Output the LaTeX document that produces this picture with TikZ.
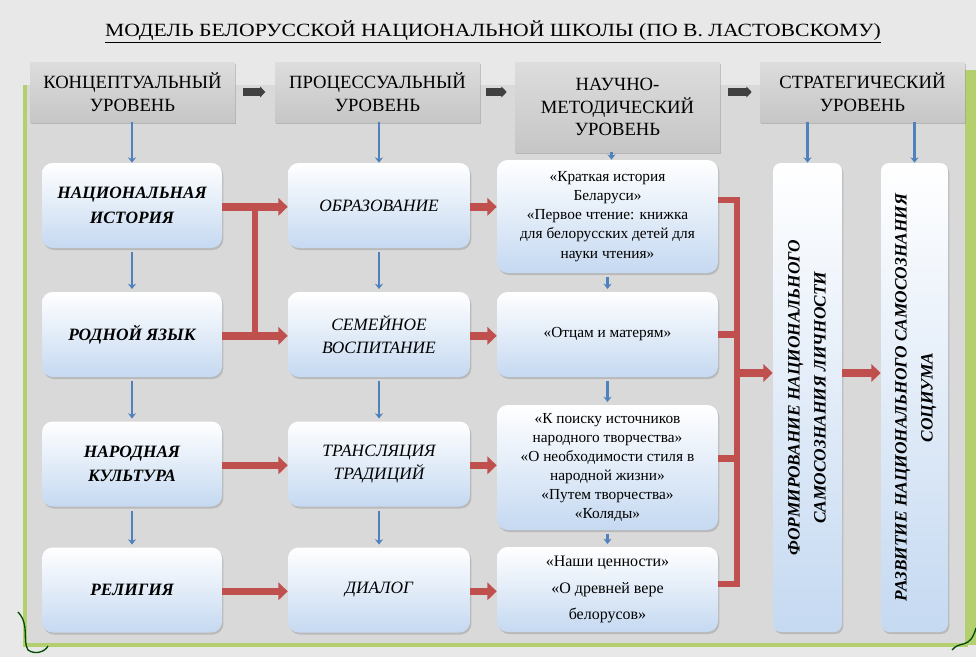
\documentclass[tikz,border=0pt]{standalone}
\usepackage{fontspec}
\setmainfont{Liberation Serif}
\usetikzlibrary{arrows.meta,calc,shadows}

\definecolor{bgray}{HTML}{D9D9D9}
\definecolor{hgray}{HTML}{C6C6C6}
\definecolor{boxblue}{HTML}{C5D9F1}
\definecolor{arrred}{HTML}{C0504D}
\definecolor{arrblue}{HTML}{4F81BD}
\definecolor{framegreen}{HTML}{B3CF6E}

\begin{document}
\begin{tikzpicture}[x=0.75pt,y=-0.75pt,
    head/.style={top color=hgray!60, bottom color=hgray, align=center,
      minimum width=153.75pt, minimum height=45pt,
      font=\fontsize{14}{17}\selectfont,
      drop shadow={shadow xshift=1pt, shadow yshift=-1.5pt, opacity=0.4}},
    box/.style={rounded corners=8pt, top color=white, bottom color=boxblue,
      align=center, minimum height=63.75pt,
      drop shadow={shadow xshift=1pt, shadow yshift=-1.5pt, opacity=0.35}},
    conc/.style={box, minimum width=135pt, font=\fontsize{13}{18.5}\selectfont\bfseries\itshape},
    proc/.style={box, minimum width=136.5pt, font=\fontsize{13}{17.5}\selectfont\itshape},
    meth/.style={box, minimum width=165.75pt, font=\fontsize{11.5}{14.3}\selectfont},
    strat/.style={box, rounded corners=6pt, minimum width=51.75pt, minimum height=351.75pt,
      font=\fontsize{13}{19.5}\selectfont\bfseries\itshape},
    bluearr/.style={draw=arrblue, line width=2pt, -{Stealth[length=4pt,width=6pt]}},
    redarr/.style={draw=arrred, line width=5.5pt, -{Triangle[length=7pt,width=13pt]}},
    redbar/.style={draw=arrred, line width=5pt},
    darkarr/.style={draw=black!75, line width=6pt, -{Triangle[length=4pt,width=8pt]}}]

  % background and frame
  \useasboundingbox (0,0) rectangle (976,657);
  \fill[gray!18] (0,0) rectangle (976,657);
  \fill[bgray] (25,85) rectangle (968,645);
  \draw[framegreen, line width=3pt] (25,85) -- (25,645) -- (968,645);
  \fill[framegreen] (965,70) rectangle (976,645);
  \draw[green!30!black, line width=1pt] (18,612) .. controls (30,625) and (22,640) .. (28,650) .. controls (35,655) and (45,652) .. (48,646);
  \draw[green!30!black, line width=1pt] (952,650) .. controls (960,640) and (970,650) .. (976,628);

  % title
  \node (title) at (493,32) {\fontsize{14}{16}\selectfont\scalebox{1.16}[1]{\underline{МОДЕЛЬ БЕЛОРУССКОЙ НАЦИОНАЛЬНОЙ ШКОЛЫ (ПО В. ЛАСТОВСКОМУ)}}};

  % levels
  \node[head] (h1) at (132.5,92) {КОНЦЕПТУАЛЬНЫЙ\\УРОВЕНЬ};
  \node[head] (h2) at (377.5,92) {ПРОЦЕССУАЛЬНЫЙ\\УРОВЕНЬ};
  \node[head, minimum height=67.5pt] (h3) at (617.5,107) {НАУЧНО-\\МЕТОДИЧЕСКИЙ\\УРОВЕНЬ};
  \node[head] (h4) at (862.5,92) {СТРАТЕГИЧЕСКИЙ\\УРОВЕНЬ};

  \draw[darkarr] ([xshift=6pt]h1.east) -- ([xshift=-7pt]h2.west);
  \draw[darkarr] ([xshift=4pt]h2.east) -- ([xshift=-6pt]h2.east -| h3.west);
  \draw[darkarr] ([xshift=6pt]h2.east -| h3.east) -- ([xshift=-6pt]h4.west);

  % conceptual level
  \node[conc] (c1) at (132,205.5) {НАЦИОНАЛЬНАЯ\\ИСТОРИЯ};
  \node[conc] (c2) at (132,334.5) {РОДНОЙ ЯЗЫК};
  \node[conc] (c3) at (132,464) {НАРОДНАЯ\\КУЛЬТУРА};
  \node[conc] (c4) at (132,590) {РЕЛИГИЯ};

  % procedural level
  \node[proc] (p1) at (379,205.5) {ОБРАЗОВАНИЕ};
  \node[proc] (p2) at (379,334.5) {СЕМЕЙНОЕ\\ВОСПИТАНИЕ};
  \node[proc] (p3) at (379,464) {ТРАНСЛЯЦИЯ\\ТРАДИЦИЙ};
  \node[proc] (p4) at (379,590) {ДИАЛОГ};

  % methodical level
  \node[meth, minimum height=84.75pt] (m1) at (607.5,216.5) {«Краткая история\\Беларуси»\\«Первое чтение: книжка\\для белорусских детей для\\науки чтения»};
  \node[meth] (m2) at (607.5,334.5) {«Отцам и матерям»};
  \node[meth, minimum height=93.75pt] (m3) at (607.5,467.5) {«К поиску источников\\народного творчества»\\«О необходимости стиля в\\народной жизни»\\«Путем творчества»\\«Коляды»};
  \node[meth, font=\fontsize{12}{20}\selectfont] (m4) at (607.5,589.5) {«Наши ценности»\\«О древней вере\\белорусов»};

  % strategic level
  \node[strat] (s1) at (807.5,397.5) {\rotatebox{90}{\begin{tabular}{@{}c@{}}ФОРМИРОВАНИЕ НАЦИОНАЛЬНОГО\\САМОСОЗНАНИЯ ЛИЧНОСТИ\end{tabular}}};
  \node[strat, minimum width=50.25pt] (s2) at (914.5,397.5) {\rotatebox{90}{\begin{tabular}{@{}c@{}}РАЗВИТИЕ НАЦИОНАЛЬНОГО САМОСОЗНАНИЯ\\СОЦИУМА\end{tabular}}};

  % blue arrows
  \draw[bluearr] (h1.south -| c1.north) -- (c1.north);
  \draw[bluearr] (h2.south -| p1.north) -- (p1.north);
  \draw[bluearr] ([xshift=3pt]h3.south -| m1.north) -- ([xshift=3pt]m1.north);
  \draw[bluearr] (h4.south -| s1.north) -- (s1.north);
  \draw[bluearr] (h4.south -| s2.north) -- (s2.north);
  \foreach \a/\b in {c1/c2, c2/c3, c3/c4, p1/p2, p2/p3, p3/p4, m1/m2, m2/m3, m3/m4}
    \draw[bluearr, shorten <=3pt, shorten >=2pt] (\a.south) -- (\b.north);

  % red arrows
  \foreach \r in {1,...,4} {
    \draw[redarr] ([yshift=-1pt]c\r.east) -- ([yshift=-1pt]p\r.west);
    \draw[redarr] ([yshift=-1pt]p\r.east) -- ([yshift=-1pt]p\r.east -| m\r.west);
  }
  \draw[redbar] ($(c1.east)!0.5!(p1.west)$) -- ($(c2.east)!0.5!(p2.west)$);

  \coordinate (bt) at (737,200);
  \coordinate (bm) at (737,373);
  \coordinate (bb) at (737,584);
  \draw[redbar] (bt -| m1.east) -- (bt) -- (bb) -- (bb -| m4.east);
  \draw[redbar] (m2.east) -- (m2.east -| bt);
  \draw[redbar] ([yshift=7pt]m3.east) -- ([yshift=7pt]m3.east -| bt);
  \draw[redarr] (bm) -- (bm -| s1.west);
  \draw[redarr] (bm -| s1.east) -- (bm -| s2.west);
\end{tikzpicture}
\end{document}
